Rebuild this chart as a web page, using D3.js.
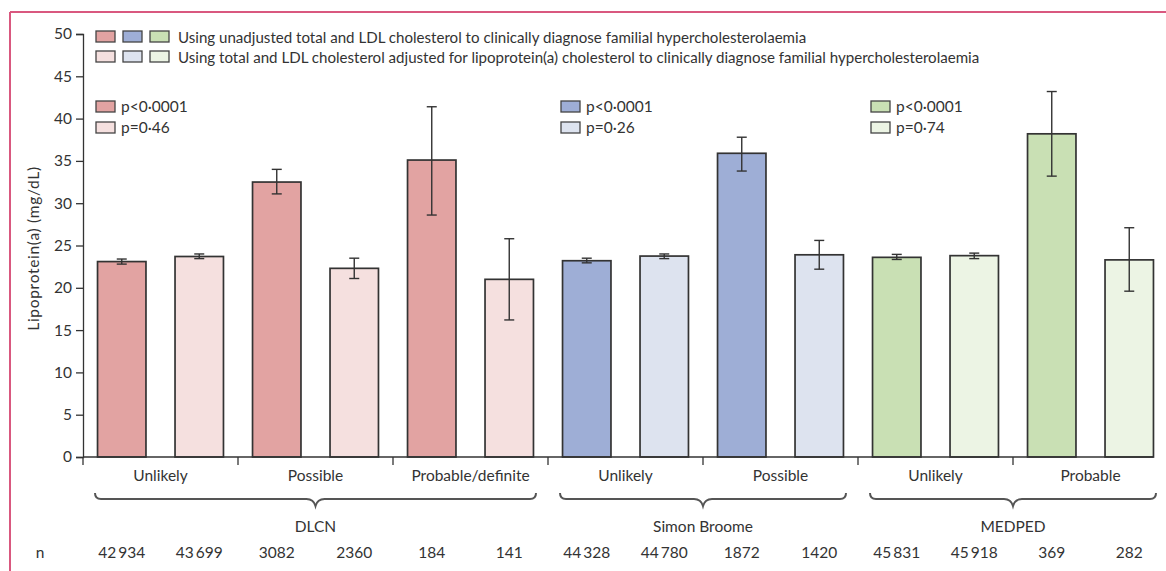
<!DOCTYPE html>
<html>
<head>
<meta charset="utf-8">
<script src="https://cdn.jsdelivr.net/npm/d3@7"></script>
<style>
  html, body { margin: 0; padding: 0; background: #fff; }
  svg { display: block; font-family: Lato, "Open Sans", sans-serif; }
</style>
</head>
<body>
<svg id="chart" width="1166" height="571"></svg>
<script>
// Diagnostic categories along the x axis and the criteria they belong to
const categories = ["Unlikely", "Possible", "Probable/definite", "Unlikely", "Possible", "Unlikely", "Probable"];
const criteria = ["DLCN", "Simon Broome", "MEDPED"];
const criterionOfCategory = [0, 0, 0, 1, 1, 2, 2];

// Mean lipoprotein(a), mg/dL, with 95% CI — unadjusted cholesterol
const unadjusted = [23.1, 32.5, 35.1, 23.2, 35.9, 23.6, 38.2];
const unadjLower = [22.8, 31.1, 28.6, 22.95, 33.8, 23.35, 33.2];
const unadjUpper = [23.4, 34.0, 41.4, 23.5, 37.8, 23.95, 43.2];

// Cholesterol adjusted for lipoprotein(a) cholesterol
const adjusted = [23.7, 22.3, 21.0, 23.75, 23.9, 23.8, 23.3];
const adjLower = [23.45, 21.1, 16.2, 23.45, 22.2, 23.45, 19.6];
const adjUpper = [24.0, 23.5, 25.8, 24.0, 25.6, 24.1, 27.1];

// Number of participants per bar
const nUnadj = [42934, 3082, 184, 44328, 1872, 45831, 369];
const nAdj = [43699, 2360, 141, 44780, 1420, 45918, 282];

// p values for trend within each criterion
const pUnadj = ["p<0·0001", "p<0·0001", "p<0·0001"];
const pAdj = ["p=0·46", "p=0·26", "p=0·74"];

const yTicks = [0, 5, 10, 15, 20, 25, 30, 35, 40, 45, 50];

const legendLabels = [
  "Using unadjusted total and LDL cholesterol to clinically diagnose familial hypercholesterolaemia",
  "Using total and LDL cholesterol adjusted for lipoprotein(a) cholesterol to clinically diagnose familial hypercholesterolaemia"
];

const unadjColors = ["#e2a3a2", "#9eaed6", "#c9e0b4"];
const adjColors = ["#f5e0df", "#dde3ef", "#ecf4e4"];

const ink = "#333";
const svg = d3.select("#chart");

// Outer frame rules
svg.append("line").attr("x1", 10).attr("x2", 1166).attr("y1", 12).attr("y2", 12)
  .attr("stroke", "#d9587f").attr("stroke-width", 2);
svg.append("line").attr("x1", 10).attr("x2", 10).attr("y1", 12).attr("y2", 571)
  .attr("stroke", "#d9587f").attr("stroke-width", 2);

const plotLeft = 83, plotRight = 1168, plotTop = 34, plotBottom = 457;

const y = d3.scaleLinear().domain([0, 50]).range([plotBottom, plotTop]);
const xCat = d3.scaleBand().domain(d3.range(categories.length)).range([plotLeft, plotRight]).padding(0);
const xSub = d3.scaleBand().domain(["unadj", "adj"]).range([0, xCat.bandwidth()])
  .paddingInner(0.375).paddingOuter(0.1875);

// Rows of bars, one pair per category
const rows = categories.map((c, i) => ({
  i, crit: criterionOfCategory[i],
  bars: [
    { key: "unadj", v: unadjusted[i], lo: unadjLower[i], hi: unadjUpper[i], n: nUnadj[i], fill: unadjColors[criterionOfCategory[i]] },
    { key: "adj", v: adjusted[i], lo: adjLower[i], hi: adjUpper[i], n: nAdj[i], fill: adjColors[criterionOfCategory[i]] }
  ]
}));

// Y axis
const yAxis = d3.axisLeft(y).tickValues(yTicks).tickSize(7).tickPadding(4);
const gy = svg.append("g").attr("transform", `translate(${plotLeft},0)`).call(yAxis);
gy.select(".domain").attr("stroke", ink).attr("stroke-width", 1.3);
gy.selectAll(".tick line").attr("stroke", ink).attr("stroke-width", 1.3);
gy.selectAll(".tick text").attr("font-size", 15.5).attr("fill", "#333").attr("font-family", "Lato");

svg.append("text")
  .attr("transform", `translate(39,${(plotTop + plotBottom) / 2 + 3}) rotate(-90)`)
  .attr("text-anchor", "middle").attr("font-size", 15.5).attr("letter-spacing", 0.7).attr("fill", "#333")
  .text("Lipoprotein(a) (mg/dL)");

// Bars and error bars
const gCat = svg.append("g").selectAll("g").data(rows).join("g")
  .attr("transform", d => `translate(${xCat(d.i)},0)`);

const gBar = gCat.selectAll("g.bar").data(d => d.bars).join("g").attr("class", "bar");
gBar.append("rect")
  .attr("x", d => xSub(d.key))
  .attr("width", xSub.bandwidth())
  .attr("y", d => y(d.v))
  .attr("height", d => y(0) - y(d.v))
  .attr("fill", d => d.fill)
  .attr("stroke", ink).attr("stroke-width", 1.7);

const cap = 5;
gBar.append("line")
  .attr("x1", d => xSub(d.key) + xSub.bandwidth() / 2)
  .attr("x2", d => xSub(d.key) + xSub.bandwidth() / 2)
  .attr("y1", d => y(d.lo)).attr("y2", d => y(d.hi))
  .attr("stroke", ink).attr("stroke-width", 1.4);
gBar.selectAll("line.cap").data(d => [[d, d.lo], [d, d.hi]]).join("line").attr("class", "cap")
  .attr("x1", ([d]) => xSub(d.key) + xSub.bandwidth() / 2 - cap)
  .attr("x2", ([d]) => xSub(d.key) + xSub.bandwidth() / 2 + cap)
  .attr("y1", ([, v]) => y(v)).attr("y2", ([, v]) => y(v))
  .attr("stroke", ink).attr("stroke-width", 1.4);

// X axis baseline and category boundary ticks
const lastBarRight = xCat(categories.length - 1) + xSub("adj") + xSub.bandwidth();
svg.append("line").attr("x1", plotLeft).attr("x2", lastBarRight)
  .attr("y1", y(0)).attr("y2", y(0)).attr("stroke", ink).attr("stroke-width", 1.3);
svg.append("g").selectAll("line").data(d3.range(categories.length)).join("line")
  .attr("x1", i => xCat(i)).attr("x2", i => xCat(i))
  .attr("y1", y(0)).attr("y2", y(0) + 8)
  .attr("stroke", ink).attr("stroke-width", 1.3);

// Category labels
svg.append("g").selectAll("text").data(rows).join("text")
  .attr("x", d => xCat(d.i) + xCat.bandwidth() / 2)
  .attr("y", 481)
  .attr("text-anchor", "middle").attr("font-size", 15.5).attr("fill", "#333")
  .text(d => categories[d.i]);

// Curly braces grouping categories by criterion
const groups = criteria.map((name, k) => {
  const idx = criterionOfCategory.map((c, i) => c === k ? i : -1).filter(i => i >= 0);
  const x0 = xCat(idx[0]);
  const x1 = xCat(idx[idx.length - 1]) + xCat.bandwidth();
  return { name, k, x0, x1 };
});

function bracePath(a, b) {
  const top = 493, mid = 499, tip = 506, m = (a + b) / 2, r = 6;
  return `M${a},${top} Q${a},${mid} ${a + r},${mid} L${m - 9},${mid} Q${m - 2},${mid} ${m},${tip} ` +
         `Q${m + 2},${mid} ${m + 9},${mid} L${b - r},${mid} Q${b},${mid} ${b},${top}`;
}
svg.append("g").selectAll("path").data(groups).join("path")
  .attr("d", d => bracePath(d.x0 + 12, d.x1 - 12))
  .attr("fill", "none").attr("stroke", "#555").attr("stroke-width", 2);

svg.append("g").selectAll("text").data(groups).join("text")
  .attr("x", d => (d.x0 + d.x1) / 2).attr("y", 532)
  .attr("text-anchor", "middle").attr("font-size", 15.5).attr("fill", "#333")
  .text(d => d.name);

// Participant counts
const fmtN = n => n >= 10000 ? d3.format("d")(Math.floor(n / 1000)) + "\u2009" + d3.format("03d")(n % 1000) : String(n);
svg.append("text").attr("x", 40).attr("y", 558).attr("text-anchor", "middle")
  .attr("font-size", 15.5).attr("fill", "#333").text("n");
gCat.selectAll("text.n").data(d => d.bars).join("text").attr("class", "n")
  .attr("x", d => xSub(d.key) + xSub.bandwidth() / 2).attr("y", 558)
  .attr("text-anchor", "middle").attr("font-size", 15.5).attr("fill", "#333")
  .text(d => fmtN(d.n));

// Top legend: colour swatches for each criterion, two rows
const legend = svg.append("g");
[unadjColors, adjColors].forEach((cols, r) => {
  cols.forEach((c, j) => {
    legend.append("rect").attr("x", 96 + j * 27).attr("y", 31 + r * 20)
      .attr("width", 19).attr("height", 11)
      .attr("fill", c).attr("stroke", "#444").attr("stroke-width", 1.3);
  });
  legend.append("text").attr("x", 178).attr("y", 42.5 + r * 20)
    .attr("font-size", 15.1).attr("fill", "#333").text(legendLabels[r]);
});

// p-value legends per criterion
const pg = svg.append("g").selectAll("g").data(groups).join("g")
  .attr("transform", d => `translate(${d.x0 + 13},0)`);
[["unadj", pUnadj, unadjColors], ["adj", pAdj, adjColors]].forEach(([key, labels, cols], r) => {
  pg.append("rect").attr("x", 0).attr("y", 101 + r * 21).attr("width", 19).attr("height", 11)
    .attr("fill", d => cols[d.k]).attr("stroke", "#444").attr("stroke-width", 1.3);
  pg.append("text").attr("x", 25).attr("y", 112 + r * 21)
    .attr("font-size", 15.5).attr("fill", "#333").text(d => labels[d.k]);
});
</script>
</body>
</html>
